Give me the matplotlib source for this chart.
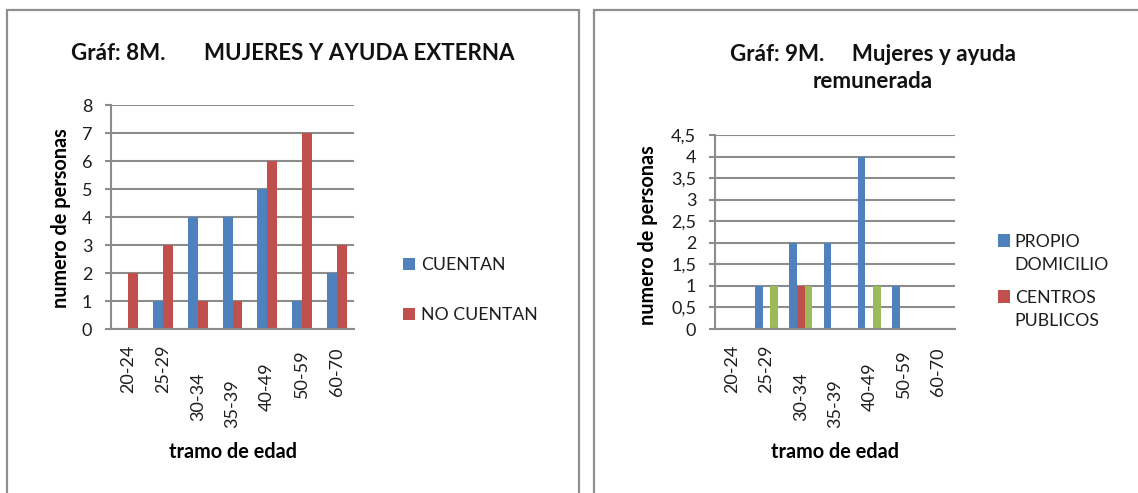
import matplotlib
matplotlib.use("Agg")
import matplotlib.pyplot as plt
from matplotlib.patches import Rectangle
from matplotlib.transforms import ScaledTranslation
from matplotlib.legend_handler import HandlerPatch
import numpy as np

plt.rcParams['font.family'] = ['Lato', 'DejaVu Sans']

# ---- data ----
tramos = ["20-24", "25-29", "30-34", "35-39", "40-49", "50-59", "60-70"]

cuentan = [0, 1, 4, 4, 5, 1, 2]
no_cuentan = [2, 3, 1, 1, 6, 7, 3]

propio_domicilio = [0, 1, 2, 2, 4, 1, 0]
centros_publicos = [0, 0, 1, 0, 0, 0, 0]
otra_ayuda = [0, 1, 1, 0, 1, 0, 0]

# ---- style ----
BLUE = "#4F81BD"
RED = "#C0504D"
GREEN = "#9BBB59"
GRID = "#8C8C8C"
BORDER = "#8E8E8E"

W, H = 1138, 493
DPI = 100
fig = plt.figure(figsize=(W / DPI, H / DPI), dpi=DPI)
fig.patch.set_facecolor("white")

TICK_FS = 13
LEG_FS = 12.7
LAB_FS = 14.3
TITLE_FS = 16.1

# downward shift (px) of each rotated category label
label_drop = [0, 0, 28, 35, 18, 5, 3]


def px_axes(x0, y0, x1, y1):
    """Axes from pixel box (top-left origin)."""
    return fig.add_axes([x0 / W, (H - y1) / H, (x1 - x0) / W, (y1 - y0) / H])


def style_axes(ax, ymax, ystep, fmt):
    ax.set_xlim(-0.5, len(tramos) - 0.5)
    ax.set_ylim(0, ymax)
    ticks = np.arange(0, ymax + ystep / 2, ystep)
    ax.set_yticks(ticks)
    ax.set_yticklabels([fmt(t) for t in ticks])
    ax.yaxis.grid(True, color=GRID, lw=1.5)
    ax.set_axisbelow(True)
    for s in ("top", "right"):
        ax.spines[s].set_visible(False)
    for s in ("left", "bottom"):
        ax.spines[s].set_color(GRID)
        ax.spines[s].set_linewidth(1.5)
    ax.tick_params(axis="y", length=4.5, width=1.5, color=GRID, pad=9,
                   labelsize=TICK_FS, labelcolor="#1E1E1E")
    ax.tick_params(axis="x", length=0, pad=11, labelsize=TICK_FS,
                   labelcolor="#1E1E1E")
    ax.set_xticks(range(len(tramos)))
    ax.set_xticklabels(tramos, rotation=90, ha="center", va="top")
    for lab, d in zip(ax.get_xticklabels(), label_drop):
        lab.set_transform(lab.get_transform() +
                          ScaledTranslation(0, -d / DPI, fig.dpi_scale_trans))


class TopHandler(HandlerPatch):
    """Square swatch aligned with the first line of a multi-line label."""

    def __init__(self, lines_up=0.0, **kw):
        super().__init__(**kw)
        self.lines_up = lines_up

    def create_artists(self, legend, orig_handle, xdescent, ydescent,
                       width, height, fontsize, trans):
        p = Rectangle((-xdescent, -ydescent + self.lines_up * fontsize),
                      width, height, facecolor=orig_handle.get_facecolor(),
                      edgecolor="none")
        self.update_prop(p, orig_handle, legend)
        p.set_transform(trans)
        return [p]


# ---- panel frames ----
for x0, x1 in ((7, 579), (594, 1160)):
    fig.add_artist(Rectangle((x0 / W, -0.1), (x1 - x0) / W, (H - 10) / H + 0.1,
                             transform=fig.transFigure, fill=False,
                             edgecolor=BORDER, lw=1.6))

# ---- chart 8M ----
ax1 = px_axes(111, 105, 354, 329)
x = np.arange(len(tramos))
bw1 = 1 / 3.5
ax1.bar(x - bw1 / 2, cuentan, bw1, color=BLUE, label="CUENTAN")
ax1.bar(x + bw1 / 2, no_cuentan, bw1, color=RED, label="NO CUENTAN")
style_axes(ax1, 8, 1, lambda t: f"{t:.0f}")
ax1.set_ylabel("numero de personas", fontsize=LAB_FS, fontweight="bold",
               ha="center", va="center")
ax1.yaxis.set_label_coords(-0.206, 0.496)
ax1.set_xlabel("tramo de edad", fontsize=LAB_FS, fontweight="bold",
               ha="center", va="center")
ax1.xaxis.set_label_coords(0.5, -0.549)
fig.text(293 / W, 1 - 53 / H, "Gráf: 8M.       MUJERES Y AYUDA EXTERNA",
         ha="center", va="center", fontsize=TITLE_FS, fontweight="bold",
         color="#111111")

h1, l1 = ax1.get_legend_handles_labels()
leg1 = ax1.legend(h1, l1, loc="upper left",
                  bbox_to_anchor=(403 / W, 1 - 257 / H),
                  bbox_transform=fig.transFigure, frameon=False,
                  fontsize=LEG_FS, handlelength=0.7, handleheight=0.7,
                  handletextpad=0.3, labelspacing=1.95, borderpad=0,
                  borderaxespad=0)
for t in leg1.get_texts():
    t.set_color("#1E1E1E")

# ---- chart 9M ----
ax2 = px_axes(715, 135, 955, 329)
bw2 = 1 / 4.5
b1 = ax2.bar(x - bw2, propio_domicilio, bw2, color=BLUE,
             label="PROPIO\nDOMICILIO")
b2 = ax2.bar(x, centros_publicos, bw2, color=RED, label="CENTROS\nPUBLICOS")
ax2.bar(x + bw2, otra_ayuda, bw2, color=GREEN)
style_axes(ax2, 4.5, 0.5, lambda t: (f"{t:.1f}".replace(".", ",")
                                    if t % 1 else f"{t:.0f}"))
ax2.set_ylabel("numero de personas", fontsize=LAB_FS, fontweight="bold",
               ha="center", va="center")
ax2.yaxis.set_label_coords(-0.279, 0.485)
ax2.set_xlabel("tramo de edad", fontsize=LAB_FS, fontweight="bold",
               ha="center", va="center")
ax2.xaxis.set_label_coords(0.5, -0.634)
fig.text(873 / W, 1 - 68 / H, "Gráf: 9M.     Mujeres y ayuda\nremunerada",
         ha="center", va="center", fontsize=TITLE_FS, fontweight="bold",
         color="#111111", linespacing=1.35)

leg2 = ax2.legend([b1.patches[0], b2.patches[0]],
                  ["PROPIO\nDOMICILIO", "CENTROS\nPUBLICOS"],
                  loc="upper left", bbox_to_anchor=(998 / W, 1 - 234 / H),
                  bbox_transform=fig.transFigure, frameon=False,
                  fontsize=LEG_FS, handlelength=0.7, handleheight=0.7,
                  handletextpad=0.25, labelspacing=1.0, borderpad=0,
                  borderaxespad=0,
                  handler_map={Rectangle: TopHandler(lines_up=0.75)})
for t in leg2.get_texts():
    t.set_color("#1E1E1E")
    t.set_linespacing(1.5)

fig.savefig("out.png", dpi=DPI, facecolor="white")
